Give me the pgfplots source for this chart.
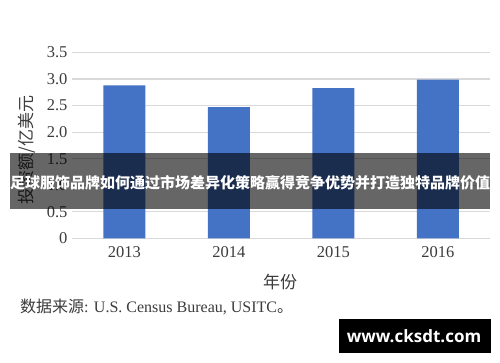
\documentclass[border=0pt]{standalone}
\usepackage{fontspec}
\usepackage{pgfplots}
\pgfplotsset{compat=1.18}
\setmainfont{Liberation Serif}
\newfontfamily\cjk{Noto Sans CJK SC}
\newfontfamily\wm{Open Sans}
\definecolor{barblue}{RGB}{68,114,196}
\definecolor{gridgray}{RGB}{217,217,217}
\definecolor{txt}{RGB}{60,60,60}
\begin{document}
\begin{tikzpicture}[x=1pt,y=1pt]
\useasboundingbox[fill=white] (0pt,0pt) rectangle (500pt,362pt);
\begin{axis}[
  at={(72pt,123.7pt)}, anchor=south west,
  scale only axis, width=418pt, height=185.8pt,
  xmin=-0.5, xmax=3.5, ymin=0, ymax=3.5,
  axis line style={draw=none},
  ymajorgrids, grid style={gridgray, line width=1.2pt},
  major tick length=0pt,
  xtick={0,1,2,3}, xticklabels={2013,2014,2015,2016},
  ytick={0,0.5,1,1.5,2,2.5,3,3.5},
  yticklabels={0,0.5,1.0,1.5,2.0,2.5,3.0,3.5},
  ticklabel style={font=\fontsize{16.5}{18}\selectfont, text=txt},
  xticklabel style={yshift=-5pt},
  yticklabel style={xshift=-1pt},
  /pgf/number format/assume math mode=true,
]
\addplot[ybar, bar width=42pt, fill=barblue, draw=none] coordinates {(0,2.88) (1,2.47) (2,2.83) (3,2.99)};
\end{axis}
\node[text=txt, rotate=90, font=\fontsize{17}{18}\selectfont\cjk] at (27pt,212pt) {投资额/亿美元};
\node[text=txt, font=\fontsize{17}{18}\selectfont\cjk] at (280pt,80pt) {年份};
\node[text=txt, anchor=west, font=\fontsize{16}{18}\selectfont, inner sep=0pt] at (20pt,55pt) {{\cjk 数据来源}: U.S. Census Bureau, USITC{\cjk 。}};
\fill[black, opacity=0.6] (10pt,153pt) rectangle (490pt,209pt);
\node[text=white, font=\fontsize{15}{17}\selectfont\cjk\bfseries, inner sep=0pt] at (250pt,179pt) {足球服饰品牌如何通过市场差异化策略赢得竞争优势并打造独特品牌价值};
\fill[black] (339pt,9pt) rectangle (491pt,43pt);
\node[text=white, font=\fontsize{17}{18}\selectfont\wm\bfseries] at (414pt,26pt) {www.cksdt.com};
\end{tikzpicture}
\end{document}
